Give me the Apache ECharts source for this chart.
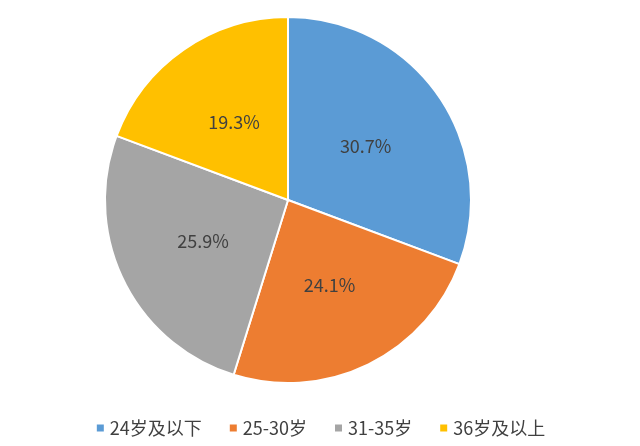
<!DOCTYPE html>
<html><head><meta charset="utf-8">
<script src="https://cdn.jsdelivr.net/npm/echarts@6/dist/echarts.min.js"></script>
<style>body{margin:0;background:#fff}#c{width:640px;height:446px}</style>
</head><body><div id="c"></div>
<script>
var names = ['24岁及以下', '25-30岁', '31-35岁', '36岁及以上'];
var values = [30.7, 24.1, 25.9, 19.3];
var colors = ['#5B9BD5', '#ED7D31', '#A5A5A5', '#FFC000'];

var chart = echarts.init(document.getElementById('c'), null, {renderer: 'canvas'});
var data = [];
for (var i = 0; i < names.length; i++) {
    data.push({name: names[i], value: values[i], itemStyle: {color: colors[i]}});
}
chart.setOption({
    animation: false,
    textStyle: {fontFamily: '"Noto Sans CJK SC", "Noto Sans", sans-serif'},
    legend: {
        bottom: 4, left: 'center',
        icon: 'rect', itemWidth: 9, itemHeight: 9, itemGap: 26,
        textStyle: {fontSize: 18, color: '#404040'},
        data: names
    },
    series: [{
        type: 'pie',
        center: [288, 200],
        radius: 183,
        startAngle: 90,
        clockwise: true,
        data: data,
        itemStyle: {borderColor: '#fff', borderWidth: 2},
        label: {
            position: 'inside',
            formatter: function (p) { return p.value.toFixed(1) + '%'; },
            fontSize: 18, color: '#404040'
        },
        labelLine: {show: false}
    }]
});
</script></body></html>
